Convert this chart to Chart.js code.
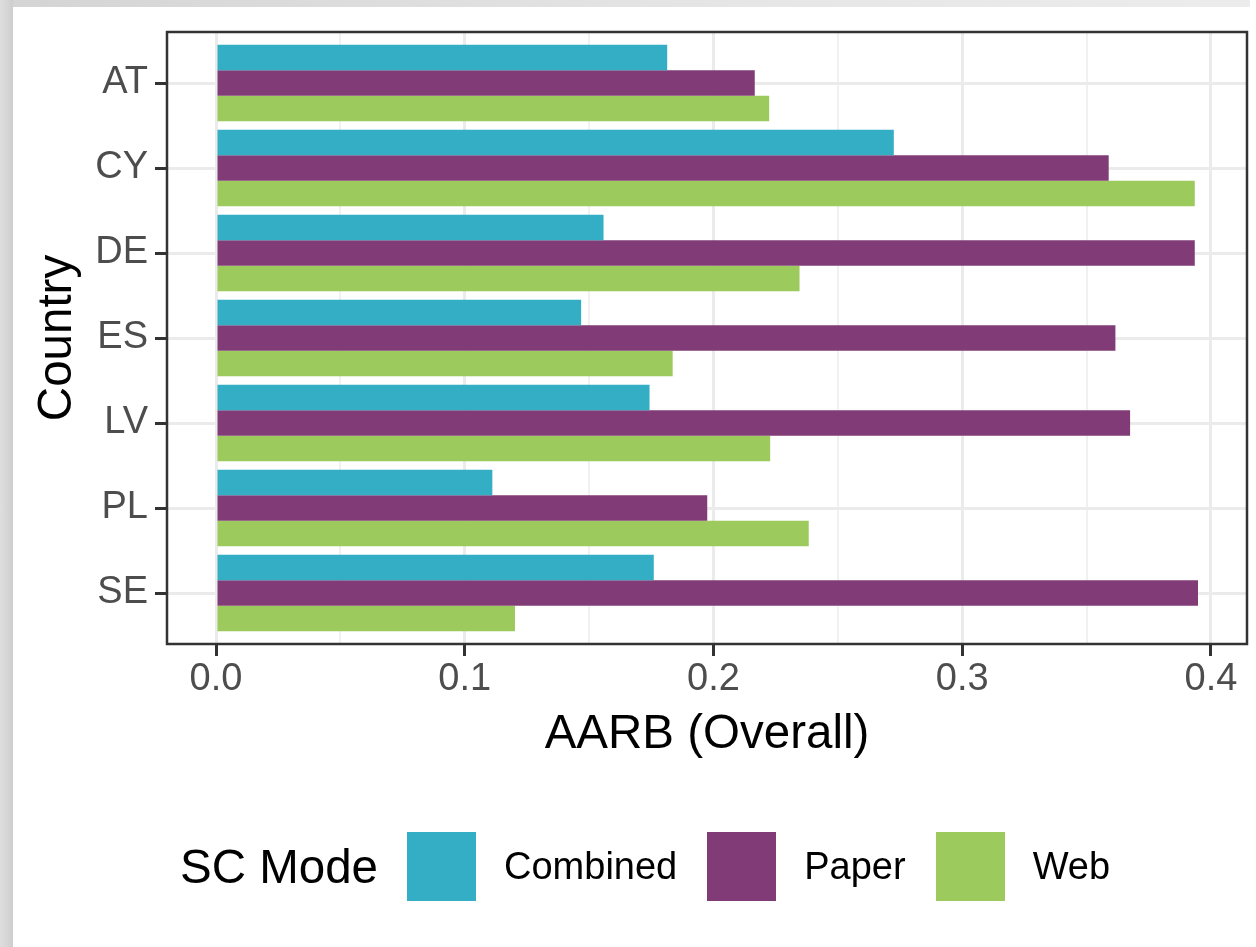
<!DOCTYPE html>
<html>
<head>
<meta charset="utf-8">
<title>AARB (Overall) by country and SC mode</title>
<script src="https://cdn.jsdelivr.net/npm/chart.js@4.4.1/dist/chart.umd.min.js"></script>
<style>
  html, body { margin: 0; padding: 0; background: #fff; }
  body { width: 1256px; height: 947px; position: relative; overflow: hidden; font-family: "Liberation Sans", Arial, sans-serif; }
  #edgeTop { position: absolute; left: 0; top: 0; width: 1250px; height: 7px; background: linear-gradient(to right, #d4d4d4, #e6e6e6 60%, #ececec); }
  #edgeLeft { position: absolute; left: 0; top: 0; width: 13px; height: 947px; background: linear-gradient(to right, #dedede, #cecece); }
  #chart { position: absolute; left: 0; top: 0; }
  #legend { position: absolute; left: 180px; top: 832px; height: 69px; display: flex; align-items: center; color: #000; white-space: nowrap; }
  #legend .legend-title { font-size: 47.5px; margin-right: 29px; }
  #legend .key { width: 69px; height: 69px; margin-right: 28px; }
  #legend .label { font-size: 38px; margin-right: 30px; }
</style>
</head>
<body>
<div id="edgeTop"></div>
<div id="edgeLeft"></div>
<canvas id="chart" width="1256" height="947"></canvas>
<div id="legend"></div>
<script>
const countries = ['AT', 'CY', 'DE', 'ES', 'LV', 'PL', 'SE'];
const modes = ['Combined', 'Paper', 'Web'];
const modeColors = ['#33aec4', '#813c77', '#9dca5c'];

// AARB values per country
const combined = [0.1814, 0.2725, 0.1558, 0.1468, 0.1743, 0.1111, 0.1760];
const paper    = [0.2166, 0.3589, 0.3935, 0.3616, 0.3675, 0.1975, 0.3948];
const web      = [0.2224, 0.3935, 0.2346, 0.1836, 0.2228, 0.2383, 0.1202];

const xTicks = [0.0, 0.1, 0.2, 0.3, 0.4];

function isMajor(v) {
    return xTicks.some(t => Math.abs(t - v) < 1e-9);
}

function toPoints(values) {
    return values.map((v, i) => ({ x: v, y: i }));
}

// ggplot style panel border on all four sides
const panelBorder = {
    id: 'panelBorder',
    afterDatasetsDraw(chart) {
        const { ctx, chartArea: a } = chart;
        ctx.save();
        ctx.strokeStyle = '#333333';
        ctx.lineWidth = 2.5;
        ctx.strokeRect(a.left, a.top, a.right - a.left, a.bottom - a.top);
        ctx.restore();
    }
};

Chart.defaults.font.family = '"Liberation Sans", Arial, sans-serif';

const series = [combined, paper, web];
const context = document.getElementById('chart').getContext('2d');

new Chart(context, {
    type: 'bar',
    data: {
        datasets: series.map((values, i) => ({
            label: modes[i],
            data: toPoints(values),
            backgroundColor: modeColors[i],
            borderWidth: 0,
            categoryPercentage: 0.9,
            barPercentage: 1.0
        }))
    },
    options: {
        responsive: false,
        animation: false,
        indexAxis: 'y',
        layout: { padding: { top: 32, right: 9, left: 0, bottom: 0 } },
        plugins: {
            legend: { display: false },
            tooltip: { enabled: false }
        },
        scales: {
            x: {
                type: 'linear',
                position: 'bottom',
                min: -0.0197,
                max: 0.4145,
                offset: false,
                border: { display: false },
                grid: {
                    offset: false,
                    color: ctx => isMajor(ctx.tick.value) ? '#ebebeb' : '#f1f1f1',
                    lineWidth: ctx => isMajor(ctx.tick.value) ? 3 : 2,
                    tickColor: ctx => isMajor(ctx.tick.value) ? '#333333' : 'rgba(0,0,0,0)',
                    tickWidth: 3,
                    tickLength: 12
                },
                ticks: {
                    stepSize: 0.05,
                    includeBounds: false,
                    autoSkip: false,
                    maxRotation: 0,
                    padding: 1,
                    color: '#4d4d4d',
                    font: { size: 38 },
                    callback: v => isMajor(v) ? v.toFixed(1) : ''
                },
                title: {
                    display: true,
                    text: 'AARB (Overall)',
                    color: '#000000',
                    font: { size: 47.5 },
                    padding: { top: 0, bottom: 184 }
                },
                afterFit(scale) { scale.height = 303; }
            },
            y: {
                type: 'linear',
                position: 'left',
                reverse: true,
                min: -0.6,
                max: 6.6,
                offset: false,
                border: { display: false },
                grid: {
                    offset: false,
                    color: '#ebebeb',
                    lineWidth: 3,
                    tickColor: '#333333',
                    tickWidth: 3,
                    tickLength: 12
                },
                ticks: {
                    stepSize: 1,
                    includeBounds: false,
                    autoSkip: false,
                    padding: 7,
                    color: '#4d4d4d',
                    font: { size: 38 },
                    callback: v => countries[v] ?? ''
                },
                title: {
                    display: true,
                    text: 'Country',
                    color: '#000000',
                    font: { size: 47.5 },
                    padding: { top: 29, bottom: 0 }
                },
                afterFit(scale) { scale.width = 167; }
            }
        }
    },
    plugins: [panelBorder]
});

// legend in the ggplot layout: title on the left, keys in a row
const legendBox = document.getElementById('legend');
legendBox.innerHTML = '<span class="legend-title">SC Mode</span>' +
    modes.map((m, i) =>
        `<span class="key" style="background:${modeColors[i]}"></span><span class="label">${m}</span>`
    ).join('');
</script>
</body>
</html>
